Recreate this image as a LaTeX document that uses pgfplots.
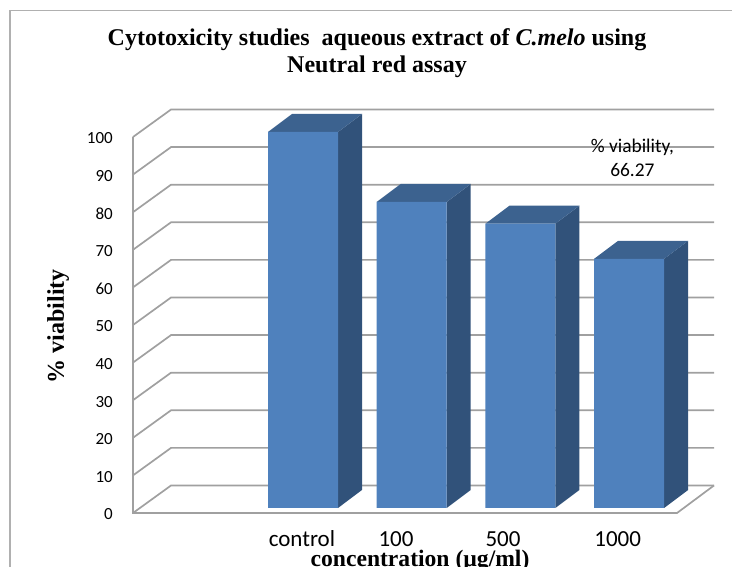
\documentclass[border=0pt]{standalone}
\usepackage{pgfplots}
\usepackage{pgfplotstable}
\usepackage{fontspec}
\pgfplotsset{compat=1.18}
\setmainfont{Carlito}
\newfontfamily\tnr{Liberation Serif}
\definecolor{barfront}{HTML}{4F81BD}
\definecolor{barside}{HTML}{31527A}
\definecolor{bartop}{HTML}{3C628F}
\definecolor{gridc}{HTML}{A0A0A0}
\definecolor{framec}{HTML}{B0B0B0}
\pgfplotstableread{
x v
0 100
1 81.4
2 75.6
3 66.27
}\viability
\begin{document}
\begin{tikzpicture}[x=1pt,y=1pt]
\path[use as bounding box] (-133,-54) rectangle (599,513);
\draw[framec,line width=1.2pt] (-123,-54) -- (-123,502.5) -- (599,502.5);
\begin{axis}[
  at={(0,0)},anchor=south west,
  scale only axis,width=581pt,height=376pt,
  xmin=-1.564,xmax=3.781,ymin=0,ymax=100,
  clip=false,
  unbounded coords=jump,
  axis line style={draw=none},
  tick style={draw=none},
  major tick length=0pt,
  xtick={-0.01,0.856,1.84,2.895},
  xticklabels={control,100,500,1000},
  ytick={0,10,...,100},
  /pgf/number format/assume math mode=true,
  xticklabel style={font=\fontsize{23}{24}\selectfont,anchor=base,inner sep=0pt,yshift=-34pt,text=black},
  yticklabel style={font=\fontsize{17}{20}\selectfont,anchor=base east,inner sep=0pt,xshift=-20pt,yshift=-7pt,text=black},
  title={\textbf{Cytotoxicity studies\ \ aqueous extract of \textit{C.melo} using}\\\textbf{Neutral red assay}},
  title style={font=\tnr\fontsize{24}{27}\selectfont,align=center,at={(axis description cs:0.42,1.207)},anchor=center},
  xlabel={\textbf{concentration (µg/ml)}},
  xlabel style={font=\tnr\fontsize{23.6}{24}\selectfont,at={(axis description cs:0.494,-0.128)},anchor=center},
  ylabel={\textbf{\% viability}},
  ylabel style={font=\tnr\fontsize{24}{24}\selectfont,at={(axis description cs:-0.129,0.497)},anchor=center},
]
% back wall and left wall grid
\addplot[gridc,line width=1.7pt] coordinates {
 (-1.564,0) (-1.214,7.32) (3.781,7.32) (3.781,nan)
 (-1.564,10) (-1.214,17.32) (3.781,17.32) (3.781,nan)
 (-1.564,20) (-1.214,27.32) (3.781,27.32) (3.781,nan)
 (-1.564,30) (-1.214,37.32) (3.781,37.32) (3.781,nan)
 (-1.564,40) (-1.214,47.32) (3.781,47.32) (3.781,nan)
 (-1.564,50) (-1.214,57.32) (3.781,57.32) (3.781,nan)
 (-1.564,60) (-1.214,67.32) (3.781,67.32) (3.781,nan)
 (-1.564,70) (-1.214,77.32) (3.781,77.32) (3.781,nan)
 (-1.564,80) (-1.214,87.32) (3.781,87.32) (3.781,nan)
 (-1.564,90) (-1.214,97.32) (3.781,97.32) (3.781,nan)
 (-1.564,100) (-1.214,107.32) (3.781,107.32)
};
% left wall edge and floor
\addplot[gridc,line width=1.7pt] coordinates {
 (-1.564,100) (-1.564,0) (3.441,0) (3.781,7.32)
};
% side and top faces
\addplot[fill=barside,draw=none,yshift=5pt] coordinates {(0.322,0) (0.322,100) (0.543,104.794) (0.543,4.794)} --cycle;
\addplot[fill=bartop,draw=none,yshift=5pt] coordinates {(-0.322,100) (0.322,100) (0.543,104.794) (-0.101,104.794)} --cycle;
\addplot[fill=barside,draw=none,yshift=5pt] coordinates {(1.322,0) (1.322,81.4) (1.543,86.194) (1.543,4.794)} --cycle;
\addplot[fill=bartop,draw=none,yshift=5pt] coordinates {(0.678,81.4) (1.322,81.4) (1.543,86.194) (0.899,86.194)} --cycle;
\addplot[fill=barside,draw=none,yshift=5pt] coordinates {(2.322,0) (2.322,75.6) (2.543,80.394) (2.543,4.794)} --cycle;
\addplot[fill=bartop,draw=none,yshift=5pt] coordinates {(1.678,75.6) (2.322,75.6) (2.543,80.394) (1.899,80.394)} --cycle;
\addplot[fill=barside,draw=none,yshift=5pt] coordinates {(3.322,0) (3.322,66.27) (3.543,71.064) (3.543,4.794)} --cycle;
\addplot[fill=bartop,draw=none,yshift=5pt] coordinates {(2.678,66.27) (3.322,66.27) (3.543,71.064) (2.899,71.064)} --cycle;
% front faces
\addplot[ybar,bar width=70pt,fill=barfront,draw=none,yshift=5pt] table[x=x,y=v] {\viability};
\node[font=\fontsize{19.4}{24}\selectfont,align=center,text=black,inner sep=0pt] at (axis cs:3.03,94.5) {\% viability,\\66.27};
\end{axis}
\end{tikzpicture}
\end{document}
